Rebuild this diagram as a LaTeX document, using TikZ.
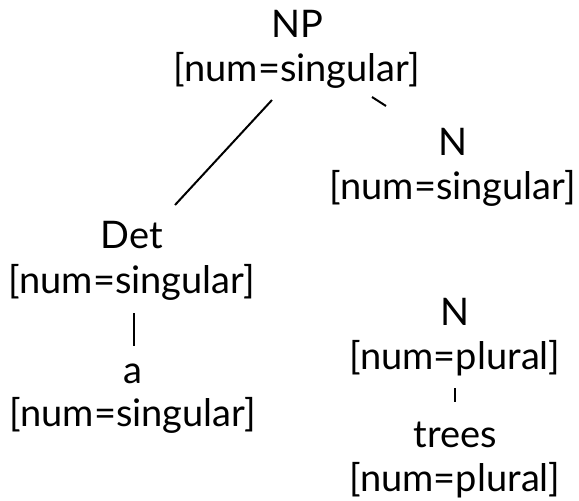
\documentclass[tikz,border=0pt]{standalone}
\usepackage{fontspec}
\setmainfont{Lato}
\begin{document}
\begin{tikzpicture}[x=1pt,y=-1pt,
  lab/.style={anchor=base,inner sep=0pt,font=\fontsize{38}{44}\selectfont},
  edge/.style={line width=2pt,black}]
\useasboundingbox (0,0) rectangle (579,501);
% root
\node[lab] (np)   at (297,37)  {NP};
\node[lab] (npf)  at (297,81)  {[num=singular]};
% right daughter
\node[lab] (n1)   at (453,155) {N};
\node[lab] (n1f)  at (453,199) {[num=singular]};
% left daughter
\node[lab] (det)  at (132,248) {Det};
\node[lab] (detf) at (132,293) {[num=singular]};
\node[lab] (a)    at (133,383) {a};
\node[lab] (af)   at (133,426) {[num=singular]};
% plural noun
\node[lab] (n2)   at (455,325) {N};
\node[lab] (n2f)  at (455,369) {[num=plural]};
\node[lab] (tr)   at (455,447) {trees};
\node[lab] (trf)  at (455,491) {[num=plural]};
% edge end points
\coordinate (e1a) at (272,100);
\coordinate (e1b) at (175,205);
\coordinate (e2a) at (372,97);
\coordinate (e2b) at (386,106);
\coordinate (e3a) at (134,313);
\coordinate (e3b) at (134,346);
\coordinate (e4a) at (455,388);
\coordinate (e4b) at (455,402);
\draw[edge] (e1a) -- (e1b);
\draw[edge] (e2a) -- (e2b);
\draw[edge] (e3a) -- (e3b);
\draw[edge] (e4a) -- (e4b);
\end{tikzpicture}
\end{document}
